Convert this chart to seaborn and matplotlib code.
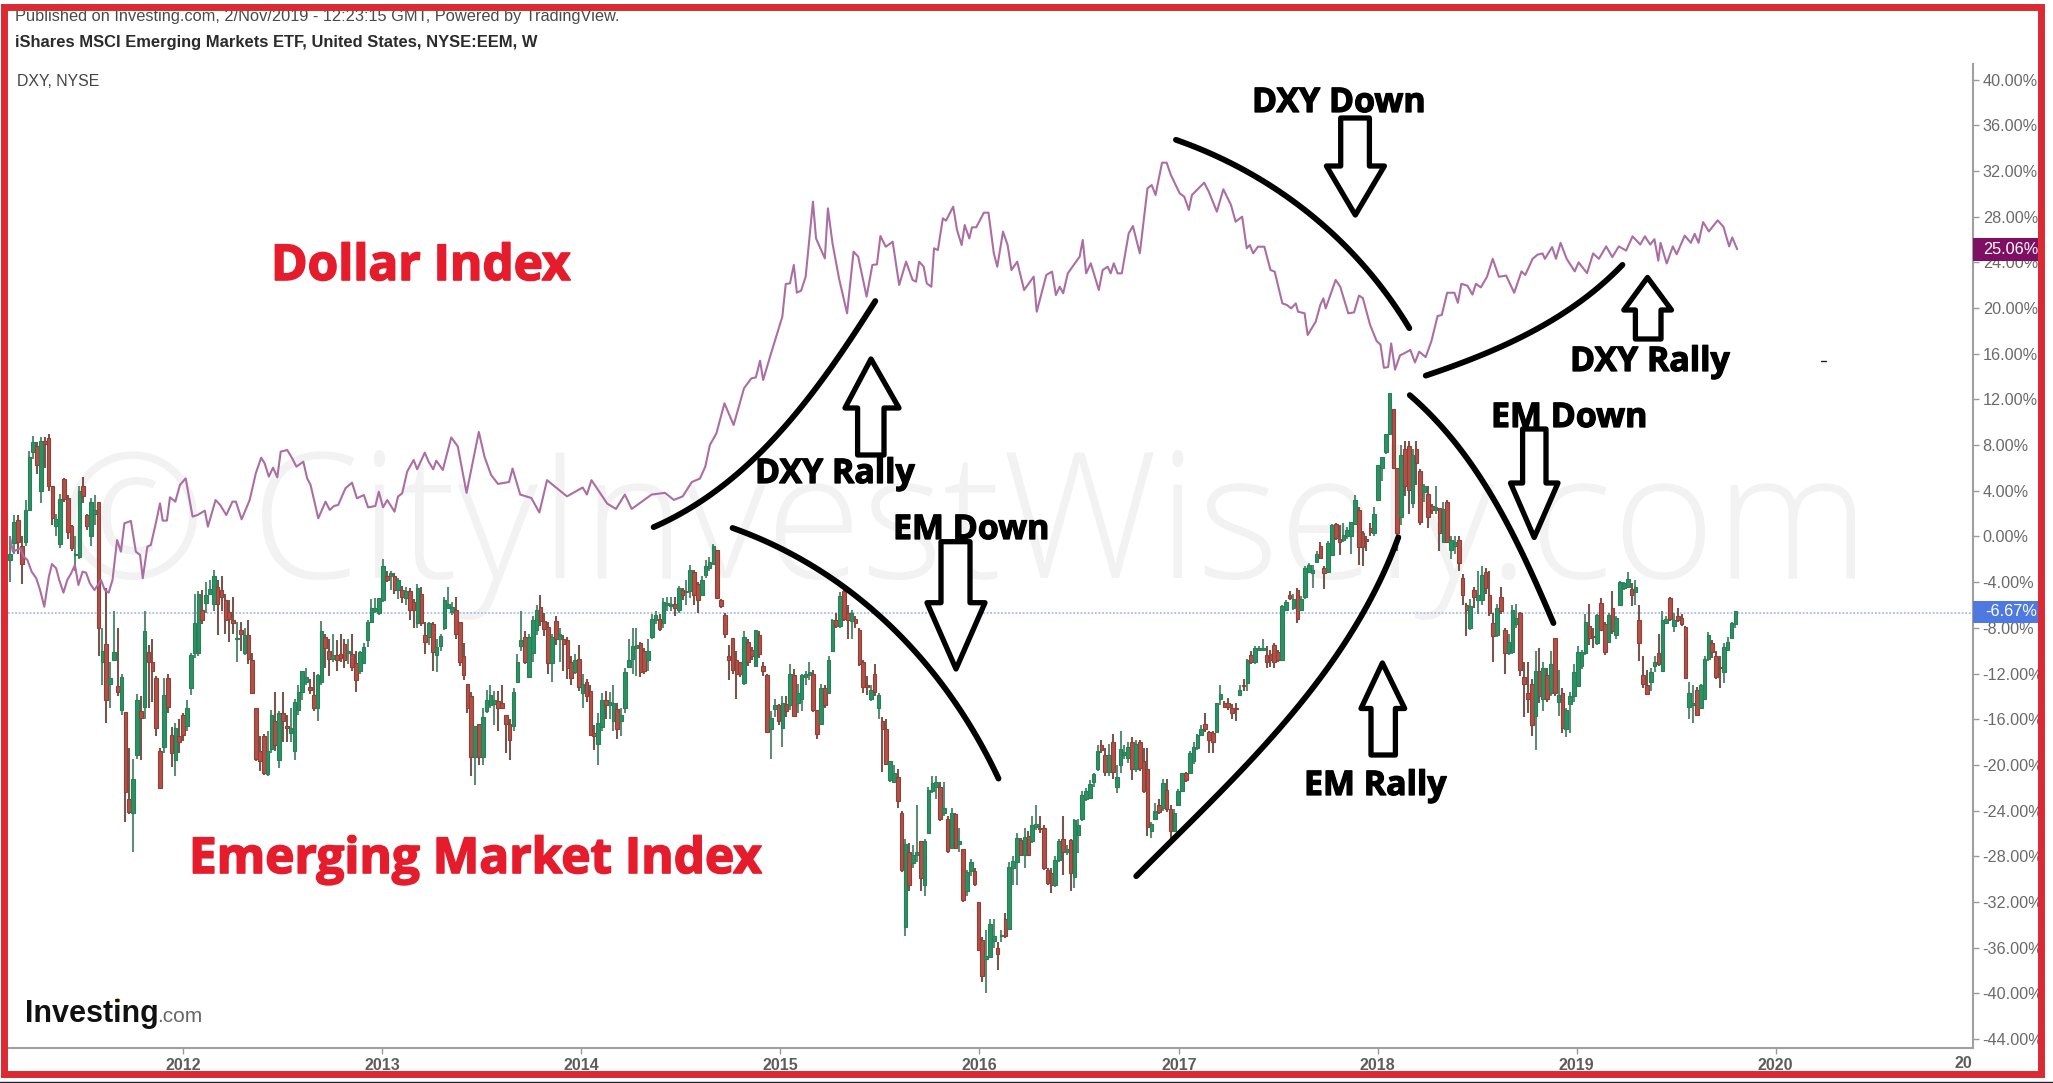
import numpy as np
import pandas as pd
import seaborn as sns
import matplotlib.pyplot as plt
import matplotlib.patheffects as pe
from matplotlib.patches import Rectangle

# EEM weekly candles, percent scale
eem_open = [
    -2.1,-.6,1.4,-.8,-.5,2.3,7.4,7.9,4,8.4, 8.6,4.4,.9,-.7,5,3.4,.9,-1.6,-1.8,4.4,
    1.9,0,2,3,-11,-9.4,-12.9,-10.8,-13.1,-15.2, -15.4,-23,-24.2,-19.1,-15.3,-14.9,-10.1,-11,-12.4,-18.8,
    -18.4,-12.4,-17.4,-19.6,-17.5,-15.6,-16.6,-13.3,-10.2,-10.2, -6.4,-5.8,-5,-5.9,-4.4,-4.7,-5.6,-6.6,-7.3,-9,
    -8.2,-10.2,-8.6,-10.8,-15,-18.8,-17.5,-20.8,-18.6,-16.2, -19.6,-15.5,-16.6,-17.2,-18.8,-15.2,-13.6,-12.7,-13.2,-13.9,
    -15,-12.7,-8.8,-10,-10.7,-10.4,-10.3,-9.4,-10.2,-10.3, -11.1,-11.8,-11.1,-9.1,-7.5,-6.5,-6.7,-5.6,-3.5,-3.5,
    -3.5,-4.7,-4.7,-5.4,-4.8,-5.7,-7.6,-5,-8.6,-8.8, -7.7,-10.4,-9.6,-8,
    -6.3,-6.6,-6.4,-7.5,-10.5,-12.9,-14,-19.3,-16.4,-19.3, -15.3,-14.8,-14.7,-14.4,-14.6,-15.6,-16.4,-16.6,-12.7,-9.6,
    -8.8,-12.3,-10.2,-8.2,-6.2,-7.4,-7.9,-11.1,-7.4,-9, -9,-9.1,-11,-11.9,-10.7,-13.7,-12.7,-13.5,-17.2,-18.2,
    -16.7,-14.3,-14.8,-16.2,-15.1,-16.2,-15,-11.4,-10.7,-9.8, -9.3,-10,-10.8,-8.8,-7.3,-7.2,-7.6,-6,-6.1,-5.9,
    -6.4,-4.7,-4.9,-4.8,-3.1,-4.2,-5.1,-3.4,-2.8,-2.4, -1.2,-5.6,-6.9,-10.5,-8.9,-10.8,-11,-12.8,-9.2,-9.9,
    -11.3,-8.6,-11.3,-12.1,-16.9,-15.1,-14.8,-16.8,-14.7,-14.8, -12.1,-14.6,-14.2,-12.3,-12.1,-12,-15.2,-16.4,-13.3,-13.7,
    -10,-7.3,-7.8,-4.8,-6.7,-7.4,-7.2,-8.2,-11,-13, -14.2,-12,-15,-16.2,
    -16.9,-21.3,-21.5,-21.1,-24.2,-34.2,-27.6,-28.6,-27.9,-26.7, -30.5,-26,-22.3,-21.9,-21.9,-24.2,-24.7,-27.3,-24.3,-26.9,
    -27.4,-31,-29.3,-29.3,-32,-35.3,-37,-36.8,-35.4,-36, -35,-33.5,-34.4,-29,-28.5,-26.6,-27.9,-26.2,-26.7,-25.4,
    -25.5,-25.5,-29.2,-29.5,-30.5,-28.3,-26.5,-27.6,-26.6,-29.8, -26.1,-24.7,-23,-22.9,-21.5,-20.4,-18.3,-19.1,-20.6,-18,
    -21.9,-20,-19.1,-19.4,-18,-20.4,-18,-19.7,-20.4,-25.8, -24.7,-23.5,-23.8,-22.2,-23.9,-25.8,-23.5,-22.3,-20.7,-20.7,
    -19.7,-18.5,-17.4,-16.4,-17.1,-17.2,-17.1,-14.2,-14.6,-14.6, -15,-15,-13.9,-13,-12.8,-10.4,-11,-9.9,-9.9,-10.4,
    -10.3,-9.5,-10.1,-10.8,-6.4,-5.1,-6.3,-4.7,-6.4,-5.3,
    -3.1,-3.2,-2.2,-.8,-2.8,-3.1,-1.6,1.1,-.2,-.3, 0,0,1.1,2.3,.3,-.2,.7,.3,3.2,6,
    7.4,9,11.2,6,1.7,7.7,7.9,2.9,7.7,5.7, 3.9,3.7,2.7,2.3,2.5,-.5,3,-1.2,-.8,-.3,
    -3.6,-6,-8,-4.7,-5.6,-5.6,-3.1,-5.1,-7.6,-8.6, -5.3,-8.2,-10.2,-10.1,-7.7,-6.7,-12.3,-13.7,-12.9,-15.7,
    -11.8,-14.2,-12.1,-13.7,-8.9,-14.5,-13.7,-16.9,-14.7,-14, -13.1,-11.3,-10.2,-7.8,-8.7,-9.3,-5.8,-7.7,-9.2,-6.3,
    -8.6,-6,-4.5,-4.4,-4.6,-4.9,-7.3,-12.1,-13,-12.7, -11.3,-10.2,-11.8,-7.6,-5.4,-7.8,-7,-7.1,-7.9,-14.9,
    -14.8,-13.4,-15,-14.2,-10.7,-9.3,-10.5,-11.4,-11.9,-9.9, -8.9,-7.7,
]
eem_close = [
    -1.5,1.3,-.5,-2.4,2.3,7,8.3,6.3,8.4,8.1, 4.4,1.6,1.5,3.3,3.3,.4,-1,-1.5,4,3.5,
    .9,3,2.3,-8,-10,-14.3,-12.4,-10.1,-13.6,-12.3, -22.4,-24.1,-21.2,-14.3,-15.9,-8.3,-11,-11.8,-16.8,-22,
    -13.9,-14.9,-19,-16.8,-18,-17.4,-15,-10.4,-7.6,-5, -7.3,-5.1,-4.6,-3.5,-5.9,-5.3,-7.3,-7.2,-7.6,-8.9,
    -8.5,-8.6,-10.7,-13.7,-19.5,-19.7,-20.7,-18.8,-15.6,-18.3, -15.5,-16.2,-16.8,-16.8,-14.5,-13.6,-11.8,-12.3,-13.4,-15,
    -12.1,-8.3,-9.8,-10.7,-10.4,-10.8,-10.6,-10.8,-10,-11.4, -12.6,-10.1,-9.7,-7.5,-6.3,-6.3,-5.4,-2.6,-3.8,-3.2,
    -4.7,-3.8,-5.3,-4.8,-6.4,-6.4,-4.5,-7.6,-9.2,-7.6, -10.1,-9.7,-8.7,-5.6,
    -5.9,-6.2,-8.5,-11,-12.1,-15,-19.3,-16.6,-19.3,-15.8, -14.3,-13.9,-14.3,-15,-15,-16.4,-17.8,-13.6,-11,-9.1,
    -11,-8.8,-7.3,-6.4,-7.4,-8.1,-11.1,-8.8,-9,-8.5, -9.4,-11.5,-12.4,-10.8,-13.2,-12.9,-14,-17.4,-17.5,-16.3,
    -14.3,-14.8,-14.5,-14.6,-16.9,-15.6,-11.9,-10.8,-9.6,-9.5, -11.9,-11.8,-10,-7.2,-6.9,-8.1,-5.7,-5.8,-5.9,-6.3,
    -4.5,-5.1,-4.8,-2.9,-5.1,-5.6,-3.8,-2.6,-2.2,-.8, -5.4,-6.1,-8.5,-10.8,-11.7,-12,-12,-8.8,-11,-10.5,
    -8.2,-10.3,-11.8,-17.1,-15.9,-14.8,-16.2,-14.6,-15.3,-12, -15.7,-13.7,-12.1,-12,-11.9,-15.2,-17.3,-13.3,-14.8,-10.8,
    -7.3,-7.8,-5.2,-7.2,-7.3,-6.7,-7.6,-11.2,-13.2,-13.2, -13.4,-13.6,-13.9,-16.9,
    -19.9,-19.7,-20.7,-23.2,-29.2,-26.9,-30.5,-27.9,-27.6,-29.9, -26.7,-22.2,-21.6,-21.5,-24.7,-23.8,-27.5,-24.2,-27.3,-26.7,
    -31.8,-29.4,-28.5,-30.4,-36.2,-38.5,-36.7,-33.9,-35,-36.6, -34.9,-35,-28.9,-28.4,-26.4,-27.9,-26.3,-27.9,-25.3,-25.2,
    -25.6,-29,-30.3,-30.5,-28.3,-26.7,-27.6,-27.4,-29.5,-24.8, -25.3,-22.6,-22.3,-21.7,-20.8,-18.8,-18.7,-20.6,-19.1,-20.6,
    -21.1,-18.6,-18.9,-18.4,-20.4,-18.2,-20.3,-22.3,-25.4,-25.2, -24,-24.1,-21.6,-23.9,-25.8,-24.2,-22.3,-20.7,-21.3,-19,
    -18.4,-17.4,-16.9,-16.9,-17.8,-18,-14.6,-13.8,-14.9,-14.9, -15.5,-15.1,-13.4,-13.1,-10.8,-11,-9.8,-9.8,-9.8,-11,
    -10.8,-11,-10.8,-6.1,-5.7,-5.4,-5.5,-7.2,-5.5,-2.8,
    -2.5,-2.9,-1.5,-1.9,-3.2,-.6,1,-.1,-.5,.1, .6,1.3,3.2,-.9,-.9,-.4,.4,2,6.3,7,
    9,12.6,6,.3,7.1,4.4,4.1,7.1,6.4,1.3, 4.4,1.7,2.3,2.6,.3,2.4,-.5,-.3,-.5,-2.3,
    -5.1,-6.4,-6.1,-5.3,-5.1,-3.4,-4.5,-6.7,-8.7,-6.3, -6.5,-10.2,-9.2,-6.4,-7.1,-11.7,-12.9,-14.2,-16.5,-11.8,
    -14,-11.5,-14.2,-11.2,-13.7,-13.9,-16.8,-15.2,-14,-11.9, -10.1,-10.1,-7.5,-8.9,-8.8,-6.9,-8.2,-10.1,-6.9,-8.3,
    -7.1,-4,-4.1,-3.7,-5.1,-4.4,-9.3,-12.9,-13.8,-11.9, -11,-11.2,-7.3,-7.2,-7.2,-7.3,-7.3,-7.7,-12.4,-13.7,
    -14.6,-15.6,-13,-10.7,-8.6,-10.1,-12.3,-11.5,-9.7,-9.2, -7.6,-6.5,
]
eem_high = [
    0,1.9,1.9,0,3.2,7.5,8.8,8.3,8.7,8.7, 9,4.4,2,3.7,5.1,3.6,1,0,4.4,5.2,
    2,3.4,3.6,3,-8,-4.5,-11,-6.5,-8,-12, -15.4,-18.5,-19.5,-13.8,-14,-6.5,-9.5,-9,-12.2,-18.5,
    -12.4,-12,-16.7,-16.3,-16,-15.5,-14.3,-10.2,-5,-4.8, -4.7,-4,-3.8,-2.9,-3.8,-3.5,-5,-5.6,-5.3,-7.5,
    -7.5,-8,-7.3,-10.2,-15,-17.5,-17.3,-17,-15.2,-13.6, -15.3,-13.6,-15.6,-15,-14.2,-13,-11.8,-11.5,-12.5,-11.9,
    -12,-7.4,-8.5,-9,-8.5,-9.1,-8.5,-9,-9,-8.5, -10,-10,-9.3,-7.3,-5.5,-5.4,-5.4,-2,-3,-3,
    -3.2,-3.6,-4.3,-4.4,-4.5,-5.5,-4.2,-4.4,-7.5,-7.5, -7.5,-9,-8.5,-5.3,
    -4.4,-5.7,-5.3,-7.5,-9.3,-12.9,-13.6,-16.6,-16.4,-15, -13.4,-13,-13.5,-13.5,-13,-15.6,-16,-13.3,-10.3,-6.5,
    -8.3,-8.5,-7,-6,-5.1,-6.7,-7.5,-8.5,-7,-8, -8.6,-8.8,-10.5,-10.3,-9.5,-12,-12.5,-13,-16.5,-15.5,
    -13.7,-13.5,-13.6,-13,-14.6,-15,-11.5,-9,-8,-8, -9.2,-9.8,-9,-6.8,-6.5,-6.8,-5.4,-5.3,-5.3,-5.3,
    -4.3,-4.5,-3.8,-2.5,-2.9,-4,-3.5,-2.1,-1.8,-.7, -1.2,-5.5,-6.7,-9.5,-8.9,-10,-11,-8.3,-9,-9.7,
    -8.2,-8.3,-11,-12,-15.3,-14.2,-14.7,-14,-14,-11.2, -11.6,-12.9,-12,-11.8,-11,-11.7,-15.2,-12.9,-13,-10.5,
    -7.2,-6.7,-4.9,-4.7,-6,-6.4,-7,-8,-10.8,-12.2, -13,-11.2,-13.7,-15.8,
    -16,-19.7,-20,-20.4,-24,-26.5,-26.8,-27,-23.5,-26.7, -26.5,-21.9,-21,-21,-21.5,-21.5,-24.5,-23.8,-24.2,-25.5,
    -27.4,-29.2,-28.2,-29,-32,-35.1,-34.5,-33.5,-33.5,-35.5, -34.5,-33,-28.5,-28,-26,-26.4,-25.5,-25.8,-24.5,-23.5,
    -24.5,-25.3,-29,-29,-28,-26.5,-24.5,-27,-26.5,-24.7, -24.7,-22.3,-22,-21.3,-20.7,-18.3,-17.8,-18.5,-18.2,-17.3,
    -20,-17,-18.3,-18,-17.6,-17.8,-17.8,-18.5,-18.5,-25, -23.3,-23,-21.2,-21.2,-23.5,-23.9,-22.1,-20.7,-20.6,-18.8,
    -18,-17.3,-16.5,-15.5,-17,-17,-14.6,-13,-14.4,-14.1, -14.7,-14.6,-13,-12.5,-10.7,-10,-9.6,-9.6,-9,-9.6,
    -9.9,-9.3,-9.9,-6,-5.6,-4.8,-5,-4.5,-5.2,-2.6,
    -2.3,-2.5,-1.3,-.5,-2.6,-.4,1.1,1.2,1,1.2, .8,1.3,3.6,2.6,.5,0,1.2,2.6,6.3,7,
    9,12.6,11.2,6,8,8.4,8.4,7.7,8.4,5.9, 4.6,4.4,2.8,4.4,2.5,3,3.2,0,0,0,
    -3.3,-5.8,-5.5,-4.4,-3,-2.6,-2.8,-3,-6.7,-5.9, -4.4,-8,-8.5,-6,-5.9,-6.6,-11,-11,-12.5,-10,
    -9.8,-11,-11.5,-10,-8.9,-11.7,-13.3,-15,-13.6,-11.2, -9.6,-9.9,-6.8,-5.9,-8,-6.8,-5.4,-7.5,-6.7,-4.8,
    -7,-3.9,-4,-3.1,-4.1,-3.8,-6,-10.5,-11.7,-11.5, -10.5,-8.5,-6.5,-7,-5.3,-6.7,-6.3,-6.8,-7.8,-12.7,
    -13,-13.2,-12.9,-10.5,-8.4,-9.1,-10,-10.5,-9.3,-8.8, -7.5,-6.5,
]
eem_low = [
    -4,-1.5,-1.5,-4.2,-.8,2.3,6.8,5.5,2.9,6, 4,1,0,-1,3,-.2,-1.3,-3,-2,2.9,
    .6,-.8,1,-10.5,-13,-16.3,-15,-10.8,-14,-15.6, -25,-24.3,-27.6,-19.5,-19.6,-16,-15,-14.5,-17.5,-22,
    -19,-15.5,-20.2,-21,-19,-17.9,-17,-13.9,-10.6,-10.5, -7.7,-6.7,-5,-6.5,-8.6,-6.5,-8.5,-9.2,-8.5,-11,
    -10,-10.4,-11.2,-13.8,-19.7,-20.5,-20.9,-21,-19,-18.8, -20.3,-18,-18,-18,-19.6,-15.6,-14.3,-13,-13.8,-15.3,
    -16.2,-13,-11.5,-12.2,-11,-11.8,-11,-11.5,-11.2,-11.8, -13.6,-12,-11.2,-9.7,-7.6,-6.7,-6.9,-5.7,-4,-4.7,
    -5,-5.5,-5.8,-6,-7.3,-8,-8,-7.8,-10.3,-9.5, -11.8,-11.9,-10,-8.2,
    -6.3,-6.9,-9,-11.3,-12.6,-15.5,-21,-21.8,-20,-20, -15.5,-15,-16.5,-17,-15,-19,-19.6,-17,-12.7,-10,
    -11.2,-12.4,-11,-8.6,-7.8,-8.7,-12,-12.7,-9.5,-11, -11.8,-12.5,-13,-12,-13.5,-15,-14.5,-17.5,-18.7,-20,
    -17,-16,-16,-17,-17.7,-17.5,-15.5,-11.5,-12,-12.2, -12.3,-12,-11.8,-9,-7.7,-8.3,-8,-6.5,-6.5,-7,
    -6.7,-5.6,-6,-5.4,-6,-6.7,-5.1,-3.6,-3,-2.4, -5.5,-6.3,-8.9,-12.6,-12,-14.2,-12.3,-13,-11.3,-10.8,
    -11.4,-10.6,-12.2,-17.2,-19.5,-15.8,-16.5,-18.4,-15.8,-15.2, -15.8,-15.5,-15.3,-13,-12.6,-15.4,-17.7,-16.5,-15,-13.8,
    -10.1,-8,-8,-7.4,-9,-9,-8,-11.3,-13.7,-13.9, -14.4,-14,-16,-20.6,
    -20,-21.5,-21.6,-23.8,-29.4,-35,-31,-29,-28.5,-31, -31.5,-26,-22.5,-23,-24.9,-24.5,-27.7,-27.4,-27.4,-27.6,
    -32,-31.5,-29.7,-30.6,-36.3,-39,-40,-36.9,-36,-38, -35.5,-35.2,-34.5,-30.5,-30.5,-28,-29,-28,-26.8,-25.7,
    -26,-29.2,-30.5,-31.2,-30.7,-28.5,-29.6,-27.9,-31,-30.8, -27.7,-24.9,-23.2,-23,-21.9,-20.5,-19,-21,-21,-21.2,
    -22.5,-20.7,-19.5,-19.8,-21.3,-20.6,-20.5,-22.5,-26.2,-26.4, -24.8,-24.3,-24,-24.1,-26.5,-25.9,-23.6,-22.4,-21.5,-20.8,
    -19.9,-18.7,-17.5,-17.1,-19,-19,-17.2,-14.8,-15,-15.2, -16,-16.2,-14,-13.5,-13.5,-11.2,-11.2,-10,-10,-11.5,
    -11.4,-11.5,-11,-10.8,-6.5,-5.6,-6.4,-7.6,-6.5,-5.5,
    -3.2,-4.5,-2.3,-2,-4.6,-3.2,-1.7,-.3,-1.6,-.5, -.2,-1.5,1,-2.5,-2.6,-1.3,0,0,3.1,4.9,
    7.2,9,6,-1.3,1,3.5,2,2.5,4.5,1, 3,.7,2,2,-1.3,-.5,-.5,-2,-1.5,-3,
    -6,-8.7,-8.2,-6.3,-6.8,-6,-5,-7,-11,-8.8, -6.8,-12,-10.4,-10.3,-8,-12.2,-15.8,-15.5,-17.5,-18.7,
    -14.6,-15.3,-14.5,-14,-14,-15.7,-17.2,-17.6,-17.2,-14.5, -13.2,-11.6,-10.4,-9.5,-9.8,-9.5,-8.3,-10.4,-9.3,-8.5,
    -9,-6.1,-4.7,-4.5,-6.1,-6,-10.9,-13.3,-13.9,-13.5, -11.9,-11.3,-11.9,-7.7,-7.4,-8.4,-7.5,-7.8,-12.5,-16,
    -16.3,-15.7,-15.1,-14.3,-10.9,-10.6,-12.5,-13.3,-12.8,-10, -9,-8,
]

# DXY line vertices: week offset from the first candle and percent value
dxy_week = [
    0,.7,1.7,2.6,3.5,4.5,5.6,6.8,7.8,8.9,10.1,10.9,12,12.8,13.9,14.9,15.9,16.9,17.8,18.9,19.8,20.8,22,23.7,24.7,25.7,
    26.7,27.9,28.9,29.8,31.5,32.8,33.9,34.6,35.8,36.7,38,39.1,39.8,40.9,41.7,43.1,44.3,45.8,47.6,48.9,50.8,51.6,53.6,
    54.8,56.4,58,58.9,60.4,62.5,64.1,65.5,66.4,67.5,68.6,69.7,70.6,72.3,73.6,74.7,76.5,77.5,78.4,80.4,82.3,83.4,84.5,
    85.6,87.5,89.2,90.5,92.3,93.4,95.3,96.2,97.3,98.4,100.3,101.2,102.3,103.6,105.3,106.2,108.2,109.2,110.4,111.2,112.9,
    115.1,116.8,119.1,122.3,123.8,125.5,127.3,130.2,131.1,133.1,136,138.1,140.1,143,145.3,149.4,150.5,151.7,155.8,158.1,
    160.4,162.2,167.4,170.9,173.2,175.5,177.9,180,181.4,182.6,184.3,186.4,188.8,191.5,193.4,194.6,195.7,196.5,198.3,
    201.5,202.4,203.5,204.5,205.3,206.4,207.6,209.5,210.3,212.6,213.4,214.6,216.3,218.4,220.1,221.3,223.5,225,226.2,
    227.1,228.5,230.3,232,233.8,235.5,236.4,237.2,238.4,239.2,240.4,241.1,242.1,243.4,244.2,246.1,247.1,248.3,249.1,
    250.3,251,252.1,254.1,255.3,256.7,257.6,259.1,260.3,261.3,262.8,264.6,267.1,267.9,270.4,271.9,272.9,273.9,274.8,
    276,279.1,279.9,280.8,282,284.1,285.1,286.4,287.2,288,289,290.1,291.9,293,294.8,296.8,297.9,298.9,300.6,301.8,
    302.9,305.2,306.4,307.6,308.4,311.6,312.8,314.9,316.6,318.6,319.8,321.5,322.7,323.5,324.4,325.6,327.3,328.9,330,
    332,333.2,334.3,335.5,336.1,337.8,338.6,340.7,341.9,342.7,343.3,345.9,347.1,349.2,350.7,352,353,354.9,356.6,357.6,
    358.5,359.6,360.4,361.4,362.7,363.7,365.4,366.6,367.7,369.4,370.9,372.5,373.6,375,376.9,377.8,378.7,380.3,381.6,
    382.5,383.8,385.4,386.9,388.5,390.4,392.5,394.4,395.4,397.3,398.6,399.9,400.5,402.4,403.4,404.6,406.2,408.3,409.3,
    411.5,413.1,414.6,416.5,418.1,419.8,421.7,423.4,425.4,426.6,428,429.1,430.1,430.7,432.3,433.9,434.9,437,438.6,
    439.6,440.6,441.8,443.3,445.6,447.1,448.6,449.4,450.7,
]
dxy_pct = [
    -.16,-1.33,-1.18,-1.04,-1.77,-2.06,-3.08,-3.66,-4.69,-6.15,-3.52,-2.41,-2.79,-3.81,-4.92,-3.81,-3.23,-2.5,-4.25,-3.08,-3.17,-4.1,-4.69,-3.81,-4.69,-4.92,
    -3.81,-.31,-1.33,1.15,1.36,-1.33,-1.62,-3.66,-.89,-.75,1.15,2.9,1.39,1.39,3.43,3.05,4.51,5.09,1.74,1.88,2.26,.86,3.19,
    2.76,1.88,3.05,3.05,1.5,3.19,5.53,6.9,6.41,5.24,6.03,5.18,7.43,7.57,6.84,6.11,6.55,5.09,4.51,1.59,3.05,2.32,2.67,
    2.76,4.22,4.71,3.34,3.63,2.55,2.67,3.92,2.55,3.19,2.17,3.49,3.78,5.68,6.7,5.88,7.34,6.55,5.88,6.64,5.82,
    8.67,7.89,3.82,9.15,6.96,5.39,4.6,4.77,5.95,3.67,3.37,2.1,4.93,4.14,3.51,4.29,3.67,4.93,2.88,2.41,
    3.67,2.41,3.67,3.82,3.2,3.51,4.77,5.07,6.11,8.01,9.03,11.66,9.76,12.97,13.84,13.93,15.39,13.7,15.74,
    19.24,22.11,22.16,23.77,21.35,21.52,22.75,29.32,26.1,24.35,28.73,25.67,22.6,19.54,24.94,24.5,21,23.77,23.83,
    26.31,25.37,25.81,22.02,24.06,22.46,22.31,24.06,23.62,22.16,21.87,25.23,25.08,27.86,27.65,28.88,26.83,25.52,27.27,
    26.1,27.07,27.07,28.35,28.35,24.79,23.62,26.69,25.52,23.33,24.06,21.58,22.75,19.68,22.9,23.19,21.14,21.87,21.29,
    23.04,24.5,25.96,23.04,23.92,21.58,23.33,23.62,23.04,23.92,23.04,23.04,26.54,27.18,24.79,30.48,30.77,29.9,32.73,32.73,
    31.65,30.05,29.75,28.59,29.9,30.98,30.19,28.44,30.4,29.02,27.56,28,25.23,25.52,24.79,25.37,25.37,23.33,23.19,
    20.41,20.27,19.97,20.41,19.68,19.54,17.64,18.81,20.27,20.85,19.97,22.46,21.87,19.54,19.62,21.09,20.87,18.52,17.11,16.8,
    14.77,14.83,16.9,14.61,15.86,16.02,16.33,15.24,16.18,15.71,17.11,19.3,19.4,21.34,21.34,20.46,22.12,21.96,21.18,
    22.12,21.81,22.74,24.31,22.74,22.84,21.34,23.21,22.9,24.31,24.68,24.78,24.31,25.34,24.31,25.71,24.31,23.21,24,
    23.06,24.78,24.31,25.4,24.46,25.4,25.03,26.28,25.56,26.28,25.56,26.03,24.15,25.71,23.9,25.4,24.71,26.34,25.71,
    26.5,25.71,27.53,26.71,27.68,27.12,25.4,26.18,25.15,
]

y_ticks = list(range(-44, 44, 4))
x_years = [2012, 2013, 2014, 2015, 2016, 2017, 2018, 2019, 2020]

sns.set_theme(style='white')
plt.rcParams['font.family'] = ['Liberation Sans', 'DejaVu Sans']

W, H = 2053, 1083
fig = plt.figure(figsize=(W / 100, H / 100), dpi=100, facecolor='white')

# watermark sits under the chart
bg = fig.add_axes([0, 0, 1, 1], zorder=0)
bg.set_xlim(0, W)
bg.set_ylim(H, 0)
bg.axis('off')
bg.text(60, 578, '\u00a9 CityInvestWisely.com', family='Open Sans', fontsize=126, weight='light',
        color='#f2f2f2', va='baseline', ha='left')

ax = fig.add_axes([8 / W, 1 - 1048 / H, (1973 - 8) / W, (1048 - 64) / H], zorder=1)
ax.patch.set_visible(False)

dates = pd.date_range('2011-02-18', '2019-10-19', periods=len(eem_close))
opens = np.array(eem_open)
closes = np.array(eem_close)
up = closes >= opens
wick_cols = np.where(up, '#5d8c78', '#74574f')
body_cols = np.where(up, '#2b9264', '#b64f45')
edge_cols = np.where(up, '#2a7f59', '#8c4238')

ax.axhline(-6.67, color='#a9bce8', lw=1.3, ls=(0, (1, 1)), zorder=1)
ax.vlines(dates, eem_low, eem_high, colors=wick_cols, lw=1.5, zorder=2)
ax.bar(dates, closes - opens, bottom=opens, width=6.6, color=body_cols, edgecolor=edge_cols, lw=0.8, zorder=3)

dxy_dates = pd.Timestamp('2011-02-18') + pd.to_timedelta(np.array(dxy_week) * 7.03, unit='D')
sns.lineplot(x=dxy_dates, y=dxy_pct, sort=False, estimator=None, color='#aa6ea3', lw=1.5, ax=ax, zorder=4)

ax.set_xlim(pd.Timestamp('2011-02-14'), pd.Timestamp('2020-12-28'))
ax.set_ylim(-44.79, 41.37)
ax.yaxis.tick_right()
ax.set_yticks(y_ticks)
ax.set_yticklabels(['%.2f%%' % v for v in y_ticks])
ax.set_xticks([pd.Timestamp(year=y, month=1, day=1) for y in x_years])
ax.set_xticklabels([str(y) for y in x_years], fontweight='bold')
ax.tick_params(axis='y', colors='#9a9a9a', labelcolor='#6a6a6a', labelsize=11.7, length=4, width=1, pad=3, right=True)
ax.tick_params(axis='x', colors='#9a9a9a', labelcolor='#5c5c5c', labelsize=11.5, length=4, width=1, pad=3, bottom=True)
for side in ['top', 'left']:
    ax.spines[side].set_visible(False)
for side in ['right', 'bottom']:
    ax.spines[side].set_color('#a0a0a0')
    ax.spines[side].set_linewidth(1.5)

# everything drawn by hand on the screenshot goes on a pixel overlay
ov = fig.add_axes([0, 0, 1, 1], zorder=2)
ov.set_xlim(0, W)
ov.set_ylim(H, 0)
ov.axis('off')
ov.patch.set_visible(False)


def curve(points, deg=3):
    pts = np.array(points, dtype=float)
    t = np.r_[0, np.cumsum(np.hypot(*np.diff(pts, axis=0).T))]
    tt = np.linspace(0, t[-1], 80)
    xs = np.polyval(np.polyfit(t, pts[:, 0], deg), tt)
    ys = np.polyval(np.polyfit(t, pts[:, 1], deg), tt)
    ov.plot(xs, ys, color='black', lw=4.2, solid_capstyle='round')


def block_arrow(tip_x, tip_y, base_y, head_l, head_r, shaft_l, shaft_r, end_y):
    xs = [tip_x, head_r, shaft_r, shaft_r, shaft_l, shaft_l, head_l, tip_x]
    ys = [tip_y, base_y, base_y, end_y, end_y, base_y, base_y, tip_y]
    ov.fill(xs, ys, facecolor='white', edgecolor='black', lw=3.8, joinstyle='round', zorder=5)


def black_label(x, y, txt):
    ov.text(x, y, txt, family='Open Sans', weight='bold', fontsize=24.4, color='black', va='baseline', ha='left', zorder=4,
            path_effects=[pe.withStroke(linewidth=0.9, foreground='black')])


def red_label(x, y, txt, size):
    ov.text(x, y, txt, family='Open Sans', weight='bold', fontsize=size, color='#e41c2b', va='baseline', ha='left',
            path_effects=[pe.withStroke(linewidth=1.2, foreground='#e41c2b')])


curve([(653.6, 527), (703.6, 500), (757, 455), (797, 413), (837.5, 358), (875.4, 301)])
curve([(733.5, 526.7), (779.5, 551.7), (842, 584), (886.6, 619.7), (926.8, 665.6), (962.5, 716.7), (999, 778)])
curve([(1136.6, 876.5), (1176.8, 835.7), (1230, 778), (1284, 727), (1319.8, 683), (1357.6, 615), (1399.2, 538)])
curve([(1177, 138), (1194.6, 150), (1284, 193), (1323.8, 225), (1357.6, 260.7), (1409.5, 327.9)])
curve([(1425.8, 375.7), (1492, 350), (1540, 328.6), (1574, 305), (1622.5, 265)])
curve([(1410, 395), (1454, 443), (1492, 493), (1516, 543), (1553.6, 623)])
ov.plot([1821, 1826], [360.7, 360.7], color='#222222', lw=1)

black_label(755, 483, 'DXY Rally')
black_label(893, 539, 'EM Down')
black_label(1252, 112, 'DXY Down')
black_label(1570, 371, 'DXY Rally')
black_label(1491, 427, 'EM Down')
black_label(1304, 795, 'EM Rally')

block_arrow(871, 359, 408, 845, 899, 857.6, 884, 455)
block_arrow(956, 669, 602.7, 927, 985, 941, 970, 541.7)
block_arrow(1355.3, 215, 166, 1326.4, 1384.4, 1340.7, 1369.4, 118)
block_arrow(1647.5, 277.5, 310, 1623.8, 1671.5, 1635.4, 1661, 339)
block_arrow(1534.2, 537.5, 483, 1510.5, 1558, 1522.6, 1546, 429)
block_arrow(1382.4, 663, 708.5, 1361, 1404.7, 1371, 1395.4, 755)

red_label(271, 280, 'Dollar Index', 35.6)
red_label(189, 873, 'Emerging Market Index', 35.6)

ov.text(15, 16, 'Published on Investing.com, 2/Nov/2019 - 12:23:15 GMT, Powered by TradingView.',
        fontsize=11.8, color='#4a4a4a', va='center', ha='left')
ov.text(15, 43, 'iShares MSCI Emerging Markets ETF, United States, NYSE:EEM, W',
        fontsize=11.9, weight='bold', color='#2b2b2b', va='center', ha='left')
ov.text(17, 82, 'DXY, NYSE', fontsize=11.4, color='#444444', va='center', ha='left')

ov.text(25, 1022, 'Investing', fontsize=22, weight='bold', color='#111111', va='baseline', ha='left')
ov.text(157, 1022, '.com', fontsize=15, color='#666666', va='baseline', ha='left')
ov.plot([117], [1000], marker='o', ms=2.5, color='#f0a030')
ov.text(1963, 1063, '20', fontsize=11.5, weight='bold', color='#5c5c5c', va='center', ha='center')

# value tags on the scale
ov.add_patch(Rectangle((1973, 237.5), 65, 23, color='#7f0f62', lw=0, zorder=6))
ov.text(2011, 249, '25.06%', fontsize=11.7, color='white', va='center', ha='center', zorder=7)
ov.add_patch(Rectangle((1973, 601), 65, 22, color='#4d79e0', lw=0, zorder=6))
ov.text(2011, 612, '-6.67%', fontsize=11.7, color='white', va='center', ha='center', zorder=7)

# red frame of the screenshot, with a white margin outside it on the right
ov.add_patch(Rectangle((2044, 0), 9, H, color='white', lw=0, zorder=8))
ov.add_patch(Rectangle((0, 1078), W, 5, color='white', lw=0, zorder=8))
ov.plot([0, W], [1081.5, 1081.5], color='#222222', lw=1, zorder=9)
ov.add_patch(Rectangle((3.5, 6.5), 2037.5, 1067.5, fill=False, edgecolor='#db2a33', lw=5, zorder=9))

fig.savefig('out.png', dpi=100)
